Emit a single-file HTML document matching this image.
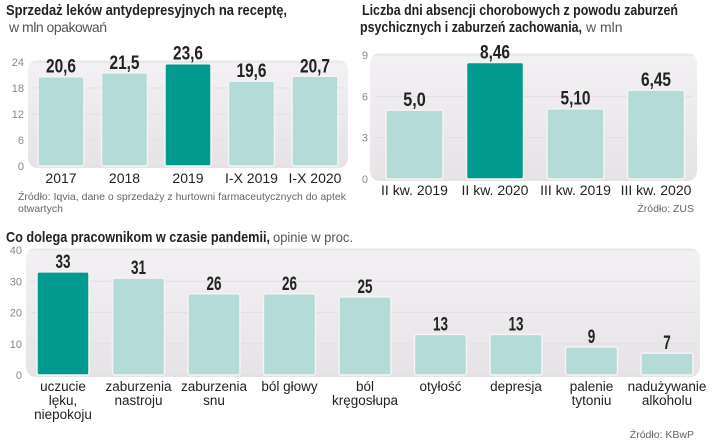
<!DOCTYPE html>
<html><head><meta charset="utf-8"><style>
html,body{margin:0;padding:0;background:#fff;}
svg{display:block;font-family:"Liberation Sans",sans-serif;}
</style></head><body>
<svg id="s" width="720" height="443" viewBox="0 0 720 443">
<defs>
<linearGradient id="pg" x1="0" y1="0" x2="0" y2="1"><stop offset="0" stop-color="#f3f1f3"/><stop offset="1" stop-color="#e6e3e6"/></linearGradient>
</defs>
<text x="6" y="15" font-size="15" font-weight="bold" fill="#222" textLength="281" lengthAdjust="spacingAndGlyphs">Sprzedaż leków antydepresyjnych na receptę,</text>
<text x="9" y="32" font-size="14" fill="#555" textLength="98">w mln opakowań</text>
<text x="362" y="15" font-size="15" font-weight="bold" fill="#222" textLength="316" lengthAdjust="spacingAndGlyphs">Liczba dni absencji chorobowych z  powodu zaburzeń</text>
<text x="360" y="32" font-size="15" font-weight="bold" fill="#222" textLength="222" lengthAdjust="spacingAndGlyphs">psychicznych i zaburzeń zachowania,</text>
<text x="586" y="32" font-size="14" fill="#555">w mln</text>
<text x="6" y="242" font-size="15" font-weight="bold" fill="#222" textLength="264" lengthAdjust="spacingAndGlyphs">Co dolega pracownikom w czasie pandemii,</text>
<text x="273" y="242" font-size="14" fill="#555" textLength="80" lengthAdjust="spacingAndGlyphs">opinie w proc.</text>
<text x="18" y="200" font-size="10.5" fill="#666">Źródło: Iqvia, dane o sprzedaży z hurtowni farmaceutycznych do aptek</text>
<text x="18" y="212" font-size="10.5" fill="#666">otwartych</text>
<text x="694" y="212" font-size="10.5" fill="#666" text-anchor="end">Źródło: ZUS</text>
<text x="694" y="438" font-size="10.5" fill="#666" text-anchor="end">Źródło: KBwP</text>
<g id="c1"></g><g id="c2"></g><g id="c3"></g>
</svg>
<script>
const c1Cats=["2017","2018","2019","I-X 2019","I-X 2020"];
const c1Vals=[20.6,21.5,23.6,19.6,20.7];
const c1Labels=["20,6","21,5","23,6","19,6","20,7"];
const c1Ticks=[0,6,12,18,24];
const c2Cats=["II kw. 2019","II kw. 2020","III kw. 2019","III kw. 2020"];
const c2Vals=[5.0,8.46,5.10,6.45];
const c2Labels=["5,0","8,46","5,10","6,45"];
const c2Ticks=[0,3,6,9];
const c3Cats=[["uczucie","lęku,","niepokoju"],["zaburzenia","nastroju"],["zaburzenia","snu"],["ból głowy"],["ból","kręgosłupa"],["otyłość"],["depresja"],["palenie","tytoniu"],["nadużywanie","alkoholu"]];
const c3Vals=[33,31,26,26,25,13,13,9,7];
const c3Ticks=[0,10,20,30,40];
const NS="http://www.w3.org/2000/svg";
function mk(p,t,a,txt){const e=document.createElementNS(NS,t);for(const k in a)e.setAttribute(k,a[k]);if(txt!==undefined)e.textContent=txt;p.appendChild(e);return e;}
function draw(gid,cfg,cats,vals,labels,ticks){
  const g=document.getElementById(gid);
  const y=v=>cfg.y0-(v-ticks[0])/(ticks[ticks.length-1]-ticks[0])*(cfg.y0-cfg.yTop);
  const panel=mk(g,"rect",{x:cfg.px,y:cfg.yTop-2,width:cfg.pw,height:cfg.y0-cfg.yTop+4,rx:10,fill:"url(#pg)"});
  
  
  ticks.forEach(t=>{
    const gl=mk(g,"line",{x1:cfg.px+4,x2:cfg.px+cfg.pw-4,y1:y(t),y2:y(t),stroke:"#e2dfe2","stroke-width":1});
    
    
    const tl=mk(g,"text",{x:cfg.tx,y:y(t)+4,"font-size":11,fill:"#888","text-anchor":"end"},String(t));
    
    
  });
  vals.forEach((v,i)=>{
    const x=cfg.x0+i*cfg.step;
    const b=mk(g,"rect",{x:x,y:y(v),width:cfg.bw,height:cfg.y0-y(v),rx:2,fill:i===cfg.hl?"#009a8e":"#b5dbd9",stroke:"#f4f4f4","stroke-width":1.5});
    
    
    const s=labels?labels[i]:String(v);
    const vl=mk(g,"text",{x:x+cfg.bw/2,y:y(v)-4,"font-size":19,"font-weight":"bold",fill:"#222","text-anchor":"middle",textLength:s.length*7.5,lengthAdjust:"spacingAndGlyphs"},s);
    
    
    const lines=Array.isArray(cats[i])?cats[i]:[cats[i]];
    lines.forEach((ln,j)=>{
      const cl=mk(g,"text",{x:x+cfg.bw/2,y:cfg.y0+cfg.ly+j*14,"font-size":cfg.cfs,fill:"#222","text-anchor":"middle"},ln);
      
      
    });
  });
}
draw("c1",{px:28,pw:320,yTop:62,y0:166,tx:24,x0:38,step:63.5,bw:46,hl:2,cfs:14,ly:17},c1Cats,c1Vals,c1Labels,c1Ticks);
draw("c2",{px:370,pw:327,yTop:55,y0:179,tx:368,x0:386,step:80.5,bw:57,hl:1,cfs:14,ly:16},c2Cats,c2Vals,c2Labels,c2Ticks);
draw("c3",{px:26,pw:674,yTop:250,y0:375,tx:22,x0:37,step:75.5,bw:52,hl:0,cfs:13.5,ly:16},c3Cats,c3Vals,null,c3Ticks);
</script>
</body></html>
